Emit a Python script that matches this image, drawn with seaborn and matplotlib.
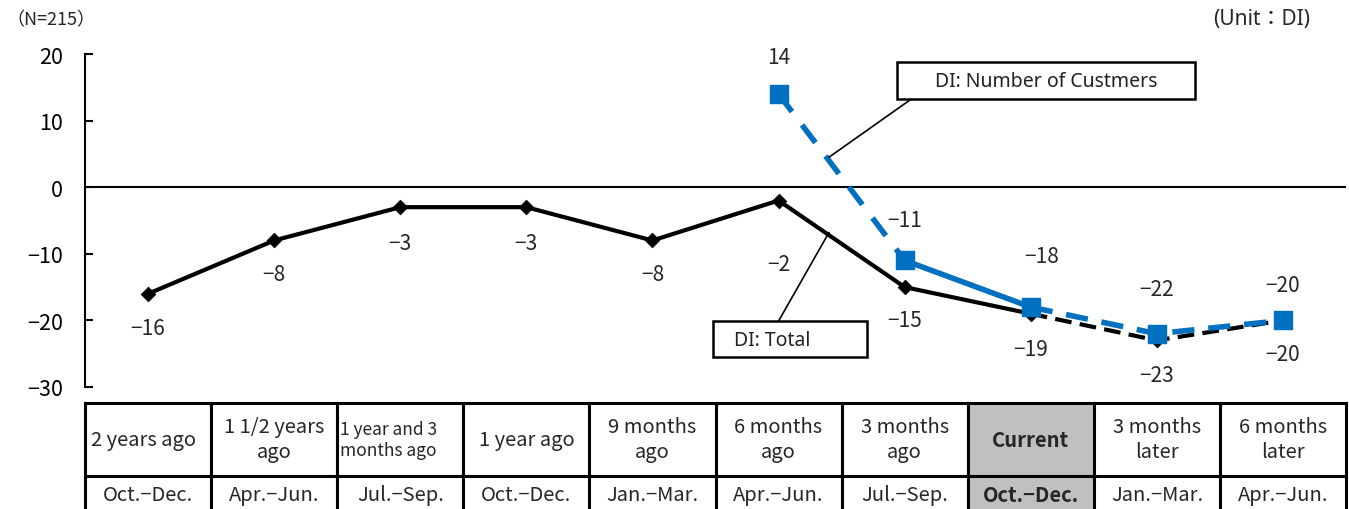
import matplotlib
matplotlib.use("Agg")
import matplotlib.pyplot as plt
import seaborn as sns
import pandas as pd
import numpy as np
from matplotlib.patches import Rectangle
from matplotlib.transforms import blended_transform_factory

# ---- data -------------------------------------------------------------
periods = ["2 years ago", "1 1/2 years\nago", "1 year and 3\nmonths ago", "1 year ago",
           "9 months\nago", "6 months\nago", "3 months\nago", "Current",
           "3 months\nlater", "6 months\nlater"]
quarters = ["Oct.\u2212Dec.", "Apr.\u2212Jun.", "Jul.\u2212Sep.", "Oct.\u2212Dec.", "Jan.\u2212Mar.",
            "Apr.\u2212Jun.", "Jul.\u2212Sep.", "Oct.\u2212Dec.", "Jan.\u2212Mar.", "Apr.\u2212Jun."]
di_total = [-16, -8, -3, -3, -8, -2, -15, -19, -23, -20]
di_customers = [np.nan, np.nan, np.nan, np.nan, np.nan, 14, -11, -18, -22, -20]
current_idx = 7
y_ticks = [-30, -20, -10, 0, 10, 20]

# ---- style ------------------------------------------------------------
sns.set_theme(style="white")
plt.rcParams["font.family"] = ["Noto Sans CJK JP", "DejaVu Sans"]
plt.rcParams["axes.unicode_minus"] = True

BLUE = "#0070C0"
W, H = 1349, 510
fig = plt.figure(figsize=(W / 100, H / 100), dpi=100)
ax = fig.add_axes([85 / W, 1 - 388 / H, 1261 / W, 333 / H])

df = pd.DataFrame({"x": np.arange(len(periods)), "total": di_total, "cust": di_customers})


def segment(col, a, b, color, ls, lw, z):
    sns.lineplot(data=df.iloc[a:b + 1], x="x", y=col, color=color, lw=lw,
                 linestyle=ls, ax=ax, legend=False, zorder=z)


# Total: actual (solid) then forecast (dashed)
segment("total", 0, current_idx, "black", "-", 3, 3)
segment("total", current_idx, 9, "black", (0, (4, 2)), 3, 3)
sns.scatterplot(data=df, x="x", y="total", marker="D", s=55, color="black",
                edgecolor="black", ax=ax, zorder=4, legend=False)

# Number of customers
segment("cust", 5, 6, BLUE, (0, (4, 3)), 4, 5)
segment("cust", 6, current_idx, BLUE, "-", 4, 5)
segment("cust", current_idx, 9, BLUE, (0, (4, 2.5)), 4, 5)
sns.scatterplot(data=df.dropna(), x="x", y="cust", marker="s", s=160, color=BLUE,
                edgecolor=BLUE, ax=ax, zorder=6, legend=False)

# value labels
total_off = [-34, -34, -36, -36, -34, -63, -33, -35, -35, -34]
cust_off = {5: 37, 6: 40, 7: 51, 8: 45, 9: 35}
cust_dx = {7: 11}
lab_fs = 15
for i, v in enumerate(di_total):
    ax.annotate(f"{v}".replace("-", "\u2212"), (i, v), xytext=(0, total_off[i]),
                textcoords="offset pixels", ha="center", va="center", fontsize=lab_fs)
for i, v in enumerate(di_customers):
    if np.isnan(v):
        continue
    ax.annotate(f"{int(v)}".replace("-", "\u2212"), (i, v), xytext=(cust_dx.get(i, 0), cust_off[i]),
                textcoords="offset pixels", ha="center", va="center", fontsize=lab_fs)

# axes
ax.set_xlim(-0.5, 9.5)
ax.set_ylim(-30, 20)
ax.set_yticks(y_ticks)
ax.set_yticklabels([f"{t}".replace("-", "\u2212") for t in y_ticks], fontsize=15.5)
ax.tick_params(axis="y", direction="in", length=6, width=1.5, pad=16, colors="black", left=True)
ax.set_xticks([])
ax.set_xlabel("")
ax.set_ylabel("")
for s in ["top", "right", "bottom"]:
    ax.spines[s].set_visible(False)
ax.spines["left"].set_color("black")
ax.spines["left"].set_linewidth(1.5)
ax.axhline(0, color="black", lw=1.5, zorder=2)
ax.set_facecolor("white")

# callout boxes
box_font = ["Noto Sans", "Noto Sans CJK JP", "DejaVu Sans"]
ax.add_patch(Rectangle((5.94, 13.2), 2.36, 5.55, fill=True, facecolor="white",
                       edgecolor="black", lw=1.8, zorder=7, clip_on=False))
ax.text(7.12, 16.0, "DI: Number of Custmers", ha="center", va="center", fontsize=14,
        family=box_font, zorder=8, color="#222222")
ax.plot([6.05, 5.40], [13.2, 4.5], color="black", lw=1.2, zorder=7)

ax.add_patch(Rectangle((4.48, -25.5), 1.22, 5.4, fill=True, facecolor="white",
                       edgecolor="black", lw=1.8, zorder=7, clip_on=False))
ax.text(4.65, -22.9, "DI: Total", ha="left", va="center", fontsize=14,
        family=box_font, zorder=8, color="#222222")
ax.plot([5.0, 5.40], [-20.1, -6.8], color="black", lw=1.2, zorder=7)

# header notes
fig.text(6 / W, 1 - 20 / H, "\uff08N=215\uff09", fontsize=13, ha="left", va="center")
fig.text(1310 / W, 1 - 19 / H, "(Unit\uff1aDI)", fontsize=15, ha="right", va="center",
         family=box_font)

# period table under the axis
trans = blended_transform_factory(ax.transData, fig.transFigure)
top, mid, bot = 1 - 404 / H, 1 - 477 / H, 1 - 514 / H
for i, (p, q) in enumerate(zip(periods, quarters)):
    cur = i == current_idx
    fc = "#C0C0C0" if cur else "white"
    for y0, y1 in [(mid, top), (bot, mid)]:
        ax.add_patch(Rectangle((i - 0.5, y0), 1, y1 - y0, transform=trans, facecolor=fc,
                               edgecolor="black", lw=2.2, clip_on=False, zorder=1))
    fs = 12.5 if i == 2 else 14.5
    ha = "left" if i == 2 else "center"
    xp = i - 0.48 if i == 2 else i
    if i == 0:
        ha, xp = "left", i - 0.45
    ax.text(xp, (mid + top) / 2, p, transform=trans, ha=ha, va="center",
            fontsize=fs, linespacing=1.25, fontweight="bold" if cur else "normal", zorder=2)
    ax.text(i, (bot + mid) / 2, q, transform=trans, ha="center", va="center",
            fontsize=14.5, fontweight="bold" if cur else "normal", zorder=2)

fig.savefig("out.png", dpi=100, facecolor="white")
